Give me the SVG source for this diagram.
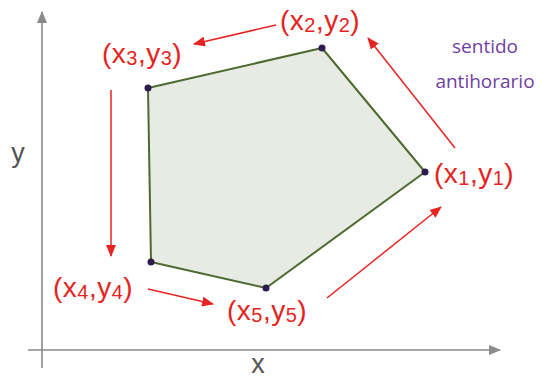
<svg xmlns="http://www.w3.org/2000/svg" width="542" height="379" viewBox="0 0 542 379">
<style>
.ax{stroke:#8a8a8a;stroke-width:1.6;fill:none}
.axl{font-family:"Liberation Sans",Arial,sans-serif;font-size:27px;fill:#555}
.lbl{font-family:"Liberation Sans",Arial,sans-serif;font-size:28px;fill:#e52421;letter-spacing:0.5px}
.sub{font-size:20px}
.arr{stroke:#e52421;stroke-width:1.5;fill:none;marker-end:url(#ah)}
.note{font-family:"Open Sans","Liberation Sans",sans-serif;font-size:19px;fill:#7040a0;text-anchor:middle}
.pt{fill:#2d1b4e}
</style>
<defs>
<marker id="ah" viewBox="0 0 12 10" refX="11" refY="5" markerWidth="12" markerHeight="10" markerUnits="userSpaceOnUse" orient="auto">
<path d="M0,0 L12,5 L0,10 Z" fill="#e52421"/>
</marker>
<marker id="gh" viewBox="0 0 12 10" refX="11" refY="5" markerWidth="12" markerHeight="10" markerUnits="userSpaceOnUse" orient="auto">
<path d="M0,0 L12,5 L0,10 Z" fill="#8a8a8a"/>
</marker>
</defs>
<g id="axes">
<line class="ax" x1="42" y1="368" x2="42" y2="12" marker-end="url(#gh)"/>
<line class="ax" x1="28" y1="350" x2="500" y2="350" marker-end="url(#gh)"/>
<text class="axl" x="18" y="162" text-anchor="middle">y</text>
<text class="axl" x="258" y="373" text-anchor="middle">x</text>
</g>
<g id="polygon">
<polygon points="425,172 322,48 148,88 151,262 266,288" fill="#e7ebe4" stroke="#4f6a30" stroke-width="2" stroke-linejoin="round"/>
<circle class="pt" cx="425" cy="172" r="3.5"/>
<circle class="pt" cx="322" cy="48" r="3.5"/>
<circle class="pt" cx="148" cy="88" r="3.5"/>
<circle class="pt" cx="151" cy="262" r="3.5"/>
<circle class="pt" cx="266" cy="288" r="3.5"/>
</g>
<g id="connectors">
<line class="arr" x1="276" y1="25" x2="194" y2="44"/>
<line class="arr" x1="455" y1="148" x2="368" y2="38"/>
<line class="arr" x1="111" y1="90" x2="111" y2="256"/>
<line class="arr" x1="148" y1="289" x2="213" y2="304"/>
<line class="arr" x1="327" y1="298" x2="441" y2="207"/>
</g>
<g id="p1"><text class="lbl" x="434" y="183">(x<tspan class="sub" dy="2">1</tspan><tspan dy="-2">,y</tspan><tspan class="sub" dy="2">1</tspan><tspan dy="-2">)</tspan></text></g>
<g id="p2"><text class="lbl" x="280" y="30">(x<tspan class="sub" dy="2">2</tspan><tspan dy="-2">,y</tspan><tspan class="sub" dy="2">2</tspan><tspan dy="-2">)</tspan></text></g>
<g id="p3"><text class="lbl" x="102" y="63">(x<tspan class="sub" dy="2">3</tspan><tspan dy="-2">,y</tspan><tspan class="sub" dy="2">3</tspan><tspan dy="-2">)</tspan></text></g>
<g id="p4"><text class="lbl" x="53" y="297">(x<tspan class="sub" dy="2">4</tspan><tspan dy="-2">,y</tspan><tspan class="sub" dy="2">4</tspan><tspan dy="-2">)</tspan></text></g>
<g id="p5"><text class="lbl" x="227" y="320">(x<tspan class="sub" dy="2">5</tspan><tspan dy="-2">,y</tspan><tspan class="sub" dy="2">5</tspan><tspan dy="-2">)</tspan></text></g>
<g id="note">
<text class="note" x="485" y="53">sentido</text>
<text class="note" x="485" y="88">antihorario</text>
</g>
</svg>
